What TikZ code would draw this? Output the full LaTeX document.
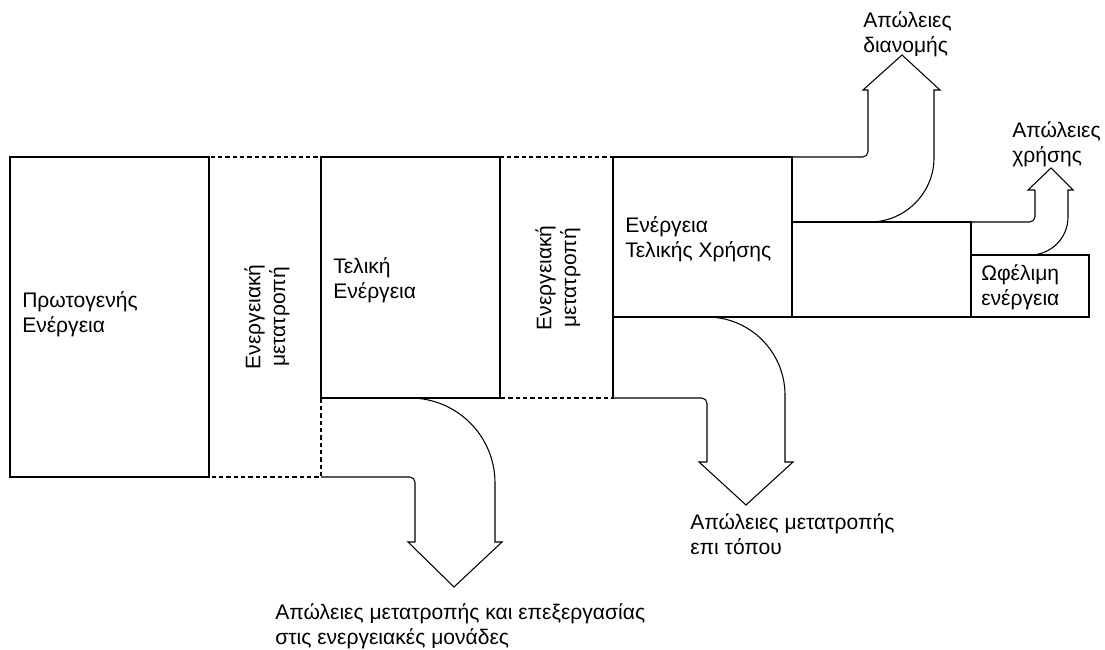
\documentclass[tikz,border=0pt]{standalone}
\usepackage{fontspec}
\setmainfont{Liberation Sans}
\usetikzlibrary{positioning}

\begin{document}
\begin{tikzpicture}[x=0.75pt, y=-0.75pt,
  blk/.style={draw=black, line width=0.8pt},
  gap/.style={draw=black, line width=0.8pt, dash pattern=on 3.2pt off 2.3pt},
  flow/.style={draw=black, line width=0.8pt, line join=miter},
  lab/.style={font=\fontsize{15.8}{18.5}\selectfont, align=left, inner sep=0pt, anchor=west},
  vlab/.style={font=\fontsize{15.8}{18.5}\selectfont, align=center, inner sep=0pt, rotate=90}]
  \useasboundingbox (0,0) rectangle (1105,649);
  % conversion gaps
  \draw[gap] (209,157) rectangle (321,477);
  \draw[gap] (500,157) rectangle (613,398);
  % energy blocks
  \draw[blk] (10,157) rectangle (209,477);
  \draw[blk] (321,157) rectangle (500,398);
  \draw[blk] (613,157) rectangle (792,317);
  \draw[blk] (613,317) -- (613,398);
  \draw[blk] (792,222) rectangle (971,317);
  \draw[blk] (971,255) rectangle (1089,317);
  % losses at the power units
  \draw[flow, rounded corners=4pt] (321,477) -- (415,477) -- (415,542);
  \draw[flow] (415,542) -- (408,542) -- (454,587) -- (502,542) -- (495,542) -- (495,483)
    .. controls (495,436) and (457,398) .. (410,398);
  % losses on site
  \draw[flow, rounded corners=4pt] (613,398) -- (707,398) -- (707,462);
  \draw[flow] (707,462) -- (699,462) -- (746,505) -- (793,462) -- (785,462) -- (785,395)
    .. controls (785,352) and (750,317) .. (707,317);
  % distribution losses
  \draw[flow, rounded corners=4pt] (792,157) -- (868,157) -- (868,90);
  \draw[flow] (868,90) -- (863,90) -- (902,55) -- (940,90) -- (934,90) -- (934,158)
    .. controls (934,193) and (905,222) .. (870,222);
  % use losses
  \draw[flow, rounded corners=4pt] (971,222) -- (1035,222) -- (1035,190);
  \draw[flow] (1035,190) -- (1028,190) -- (1051,168) -- (1073,190) -- (1068,190) -- (1068,217)
    .. controls (1068,238) and (1051,255) .. (1030,255);
  % labels
  \node[lab] (prim) at (22,314) {Πρωτογενής\\Ενέργεια};
  \node[vlab] (conv1) at (267,317) {Ενεργειακή\\μετατροπή};
  \node[lab] (final) at (333,280) {Τελική\\Ενέργεια};
  \node[vlab] (conv2) at (558,278) {Ενεργειακή\\μετατροπή};
  \node[lab] (enduse) at (625,239) {Ενέργεια\\Τελικής Χρήσης};
  \node[lab] (useful) at (981,287) {Ωφέλιμη\\ενέργεια};
  \node[lab] (lossunit) at (275,626) {Απώλειες μετατροπής και επεξεργασίας\\στις ενεργειακές μονάδες};
  \node[lab] (losssite) at (690,534) {Απώλειες μετατροπής\\επι τόπου};
  \node[lab] (lossdist) at (863,34) {Απώλειες\\διανομής};
  \node[lab] (lossuse) at (1012,144) {Απώλειες\\χρήσης};
\end{tikzpicture}
\end{document}
